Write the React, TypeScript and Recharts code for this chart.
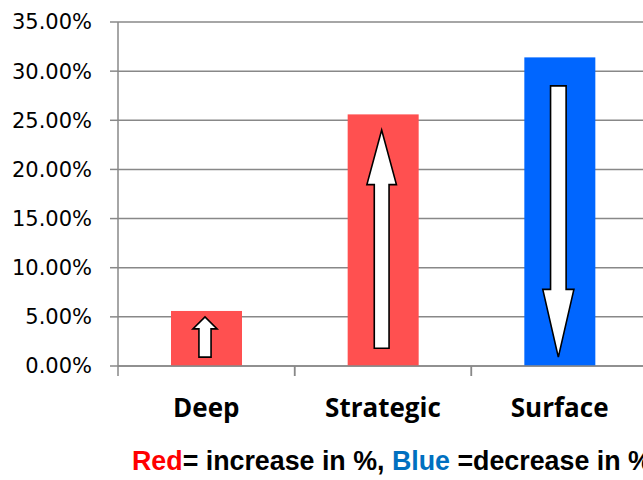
import React from 'react';
import { BarChart, Bar, XAxis, YAxis, CartesianGrid } from 'recharts';

const categories = ['Deep', 'Strategic', 'Surface'];
const changeValues = [0.056, 0.256, 0.314];
const changeDirection = ['increase', 'increase', 'decrease'];
const arrowStart = [0.009, 0.018, 0.285];
const arrowEnd = [0.05, 0.24, 0.009];
const yTicks = [0, 0.05, 0.1, 0.15, 0.2, 0.25, 0.3, 0.35];

const RED = '#FF5050';
const BLUE = '#0066FF';
const GRID = '#888888';

const data = categories.map((name, i) => ({
  name,
  value: changeValues[i],
  direction: changeDirection[i],
  from: arrowStart[i],
  to: arrowEnd[i],
}));

const ArrowBar = (props: any) => {
  const { x, y, width, height, payload } = props;
  const fill = payload.direction === 'increase' ? RED : BLUE;
  const pxPerUnit = height / payload.value;
  const base = y + height;
  const yFrom = base - payload.from * pxPerUnit;
  const yTo = base - payload.to * pxPerUnit;
  const len = Math.abs(yTo - yFrom);
  const dir = yTo < yFrom ? -1 : 1;
  const headLen = Math.max(12, 0.25 * len);
  const headW = 23 + 0.03 * len;
  const shaftW = headW * 0.5;
  const cx = x + width / 2 - 1.5;
  const yHeadBase = yTo - dir * headLen;
  const pts = [
    [cx - shaftW / 2, yFrom],
    [cx - shaftW / 2, yHeadBase],
    [cx - headW / 2, yHeadBase],
    [cx, yTo],
    [cx + headW / 2, yHeadBase],
    [cx + shaftW / 2, yHeadBase],
    [cx + shaftW / 2, yFrom],
  ]
    .map((p) => p.join(','))
    .join(' ');
  return (
    <g>
      <rect x={x} y={y} width={width} height={height} fill={fill} />
      <polygon points={pts} fill="#ffffff" stroke="#000000" strokeWidth={1.6} strokeLinejoin="miter" />
    </g>
  );
};

const CatTick = (props: any) => {
  const { x, y, payload, width, visibleTicksCount } = props;
  const count = visibleTicksCount || categories.length;
  const half = (width || 530) / (2 * count);
  const axisY = y - 8;
  return (
    <g>
      <line x1={x - half} x2={x - half} y1={axisY} y2={axisY + 10} stroke={GRID} strokeWidth={1.5} />
      <line x1={x + half} x2={x + half} y1={axisY} y2={axisY + 10} stroke={GRID} strokeWidth={1.5} />
      <text
        x={x}
        y={y + 43}
        textAnchor="middle"
        fontFamily="Open Sans"
        fontWeight={700}
        fontSize={26}
        fill="#000"
      >
        {payload.value}
      </text>
    </g>
  );
};

export default function App() {
  return (
    <div
      style={{
        position: 'fixed',
        left: 0,
        top: 0,
        width: 643,
        height: 480,
        overflow: 'hidden',
        background: '#fff',
      }}
    >
      <div style={{ position: 'absolute', left: 8, top: 8 }}>
        <BarChart
          width={640}
          height={470}
          data={data}
          margin={{ top: 14, right: 0, bottom: 0, left: 0 }}
          barSize={71}
        >
          <CartesianGrid vertical={false} stroke={GRID} strokeWidth={1.5} />
          <XAxis
            dataKey="name"
            type="category"
            height={112}
            axisLine={{ stroke: GRID, strokeWidth: 1.5 }}
            tickLine={false}
            interval={0}
            tick={<CatTick />}
          />
          <YAxis
            domain={[0, 0.35]}
            ticks={yTicks}
            width={110}
            tickSize={8}
            tickMargin={18}
            interval={0}
            tickFormatter={(v: number) => (v * 100).toFixed(2) + '%'}
            axisLine={{ stroke: GRID, strokeWidth: 1.5 }}
            tickLine={{ stroke: GRID, strokeWidth: 1.5 }}
            tick={{ fill: '#000', fontSize: 21, fontFamily: 'DejaVu Sans' }}
          />
          <Bar dataKey="value" shape={ArrowBar} isAnimationActive={false} />
        </BarChart>
      </div>
      <div
        style={{
          position: 'absolute',
          left: 132,
          top: 448,
          whiteSpace: 'nowrap',
          fontFamily: '"Liberation Sans", Arial, sans-serif',
          fontWeight: 700,
          fontSize: 26.8,
          lineHeight: '26.8px',
          color: '#000',
        }}
      >
        <span style={{ color: '#FF0000' }}>Red</span>= increase in %,{' '}
        <span style={{ color: '#0070C0' }}>Blue</span> =decrease in %
      </div>
    </div>
  );
}
